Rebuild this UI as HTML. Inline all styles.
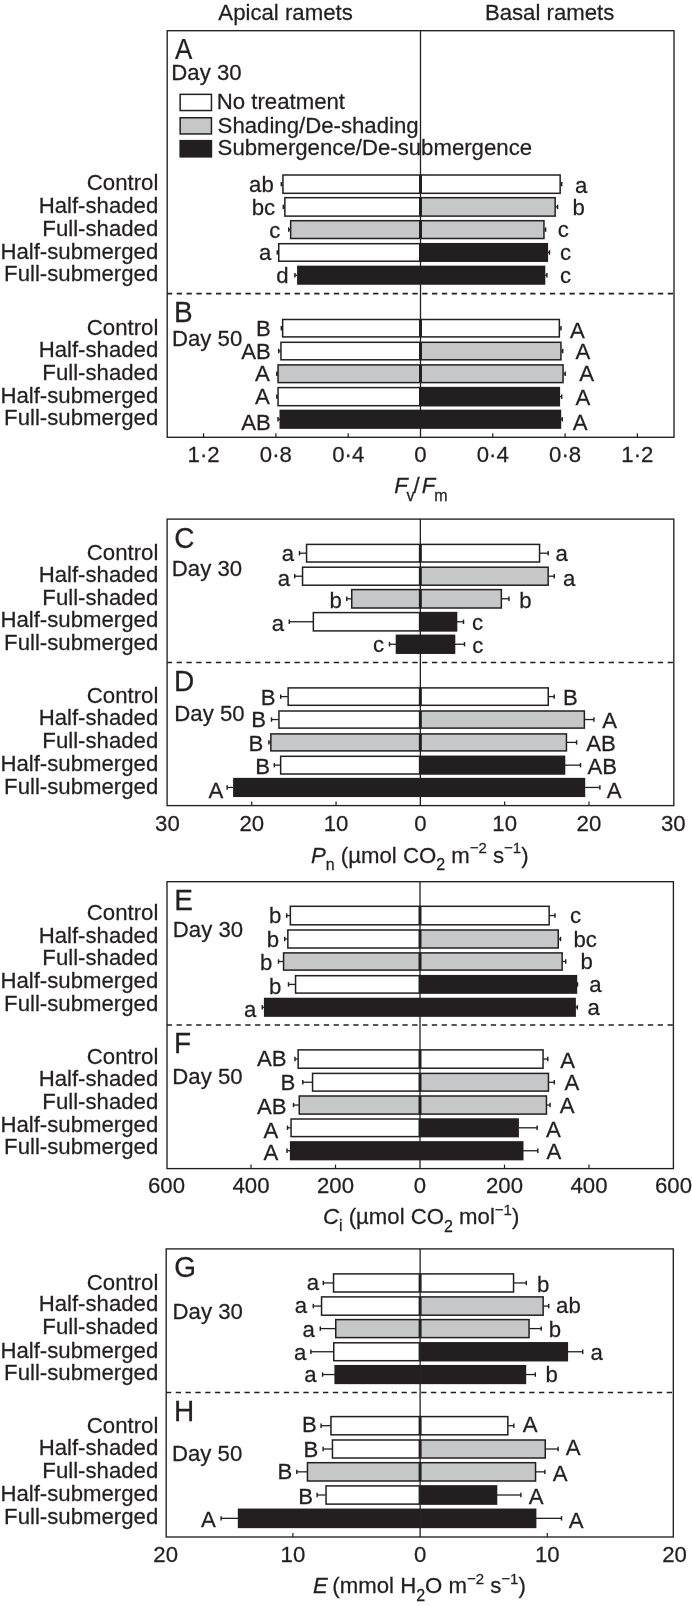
<!DOCTYPE html>
<html><head><meta charset="utf-8"><style>
html,body{margin:0;padding:0;background:#fff;}
svg{display:block;will-change:transform;filter:blur(0.35px);}
text{font-family:"Liberation Sans",sans-serif;fill:#231f20;stroke:#231f20;stroke-width:0.25px;}
</style></head><body>
<svg width="692" height="1606" viewBox="0 0 692 1606" stroke="#231f20" fill="#231f20">
<rect x="0" y="0" width="692" height="1606" fill="#fff" stroke="none"/>
<text transform="translate(218.36,19.80) scale(1,1.035)" font-size="22.2">Apical ramets</text>
<text transform="translate(484.88,19.80) scale(1,1.035)" font-size="22.2">Basal ramets</text>
<rect x="167.20" y="30.70" width="506.80" height="406.60" fill="none" stroke-width="1.35"/>
<line x1="420.50" y1="30.70" x2="420.50" y2="437.30" stroke-width="1.3"/>
<line x1="167.20" y1="293.60" x2="674.00" y2="293.60" stroke-width="1.55" stroke-dasharray="5.3 4.52" stroke-dashoffset="0.3"/>
<line x1="203.60" y1="433.30" x2="203.60" y2="437.30" stroke-width="1.2"/>
<line x1="275.90" y1="433.30" x2="275.90" y2="437.30" stroke-width="1.2"/>
<line x1="348.20" y1="433.30" x2="348.20" y2="437.30" stroke-width="1.2"/>
<line x1="492.80" y1="433.30" x2="492.80" y2="437.30" stroke-width="1.2"/>
<line x1="565.10" y1="433.30" x2="565.10" y2="437.30" stroke-width="1.2"/>
<line x1="637.40" y1="433.30" x2="637.40" y2="437.30" stroke-width="1.2"/>
<text transform="translate(203.60,462.30) scale(1,1.035)" font-size="22.2" text-anchor="middle">1·2</text>
<text transform="translate(275.90,462.30) scale(1,1.035)" font-size="22.2" text-anchor="middle">0·8</text>
<text transform="translate(348.20,462.30) scale(1,1.035)" font-size="22.2" text-anchor="middle">0·4</text>
<text transform="translate(420.50,462.30) scale(1,1.035)" font-size="22.2" text-anchor="middle">0</text>
<text transform="translate(492.80,462.30) scale(1,1.035)" font-size="22.2" text-anchor="middle">0·4</text>
<text transform="translate(565.10,462.30) scale(1,1.035)" font-size="22.2" text-anchor="middle">0·8</text>
<text transform="translate(637.40,462.30) scale(1,1.035)" font-size="22.2" text-anchor="middle">1·2</text>
<text transform="translate(175.05,58.7) scale(0.885,1)" font-size="29.3">A</text>
<text transform="translate(171.28,79.50) scale(1,1.035)" font-size="22.2">Day 30</text>
<rect x="179.40" y="93.60" width="32.80" height="17.70" fill="#231f20" stroke="none"/>
<rect x="180.90" y="95.10" width="29.80" height="14.70" fill="#ffffff" stroke="none"/>
<rect x="179.40" y="117.00" width="32.80" height="17.70" fill="#231f20" stroke="none"/>
<rect x="180.90" y="118.50" width="29.80" height="14.70" fill="#c6c7c9" stroke="none"/>
<rect x="179.40" y="139.90" width="32.80" height="17.70" fill="#231f20" stroke="none"/>
<text transform="translate(216.78,108.90) scale(1,1.035)" font-size="22.2">No treatment</text>
<text transform="translate(217.59,132.60) scale(1,1.035)" font-size="22.2">Shading/De-shading</text>
<text transform="translate(217.59,154.70) scale(1,1.035)" font-size="22.2">Submergence/De-submergence</text>
<rect x="282.20" y="174.25" width="138.30" height="19.80" fill="#231f20" stroke="none"/>
<rect x="283.70" y="175.75" width="135.30" height="16.80" fill="#ffffff" stroke="none"/>
<line x1="282.60" y1="184.15" x2="281.30" y2="184.15" stroke-width="1.3"/>
<line x1="281.30" y1="181.95" x2="281.30" y2="186.35" stroke-width="1.45"/>
<rect x="420.50" y="174.25" width="140.40" height="19.80" fill="#231f20" stroke="none"/>
<rect x="422.00" y="175.75" width="137.40" height="16.80" fill="#ffffff" stroke="none"/>
<line x1="560.50" y1="184.15" x2="561.70" y2="184.15" stroke-width="1.3"/>
<line x1="561.70" y1="181.95" x2="561.70" y2="186.35" stroke-width="1.45"/>
<text transform="translate(249.04,192.20) scale(1,1.035)" font-size="22.2">ab</text>
<text transform="translate(575.06,192.90) scale(1,1.035)" font-size="22.2">a</text>
<text transform="translate(86.82,190.10) scale(1,1.035)" font-size="22.2">Control</text>
<rect x="284.10" y="196.95" width="136.40" height="19.90" fill="#231f20" stroke="none"/>
<rect x="285.60" y="198.45" width="133.40" height="16.90" fill="#ffffff" stroke="none"/>
<line x1="284.50" y1="206.90" x2="283.30" y2="206.90" stroke-width="1.3"/>
<line x1="283.30" y1="204.70" x2="283.30" y2="209.10" stroke-width="1.45"/>
<rect x="420.50" y="196.95" width="135.40" height="19.90" fill="#231f20" stroke="none"/>
<rect x="422.00" y="198.45" width="132.40" height="16.90" fill="#c6c7c9" stroke="none"/>
<line x1="555.50" y1="206.90" x2="557.60" y2="206.90" stroke-width="1.3"/>
<line x1="557.60" y1="204.70" x2="557.60" y2="209.10" stroke-width="1.45"/>
<text transform="translate(251.74,214.60) scale(1,1.035)" font-size="22.2">bc</text>
<text transform="translate(572.57,215.00) scale(1,1.035)" font-size="22.2">b</text>
<text transform="translate(38.63,212.90) scale(1,1.035)" font-size="22.2">Half-shaded</text>
<rect x="289.90" y="219.95" width="130.60" height="19.30" fill="#231f20" stroke="none"/>
<rect x="291.40" y="221.45" width="127.60" height="16.30" fill="#c6c7c9" stroke="none"/>
<line x1="290.30" y1="229.60" x2="288.70" y2="229.60" stroke-width="1.3"/>
<line x1="288.70" y1="227.40" x2="288.70" y2="231.80" stroke-width="1.45"/>
<rect x="420.50" y="219.95" width="124.20" height="19.30" fill="#231f20" stroke="none"/>
<rect x="422.00" y="221.45" width="121.20" height="16.30" fill="#c6c7c9" stroke="none"/>
<line x1="544.30" y1="229.60" x2="545.60" y2="229.60" stroke-width="1.3"/>
<line x1="545.60" y1="227.40" x2="545.60" y2="231.80" stroke-width="1.45"/>
<text transform="translate(269.34,237.80) scale(1,1.035)" font-size="22.2">c</text>
<text transform="translate(557.66,237.40) scale(1,1.035)" font-size="22.2">c</text>
<text transform="translate(42.33,235.80) scale(1,1.035)" font-size="22.2">Full-shaded</text>
<rect x="278.00" y="242.95" width="142.50" height="19.00" fill="#231f20" stroke="none"/>
<rect x="279.50" y="244.45" width="139.50" height="16.00" fill="#ffffff" stroke="none"/>
<line x1="278.40" y1="252.45" x2="277.30" y2="252.45" stroke-width="1.3"/>
<line x1="277.30" y1="250.25" x2="277.30" y2="254.65" stroke-width="1.45"/>
<rect x="420.50" y="242.95" width="127.60" height="19.00" fill="#231f20" stroke="none"/>
<line x1="547.70" y1="252.45" x2="549.50" y2="252.45" stroke-width="1.3"/>
<line x1="549.50" y1="250.25" x2="549.50" y2="254.65" stroke-width="1.45"/>
<text transform="translate(259.00,259.80) scale(1,1.035)" font-size="22.2">a</text>
<text transform="translate(560.06,259.80) scale(1,1.035)" font-size="22.2">c</text>
<text transform="translate(0.39,258.60) scale(1,1.035)" font-size="22.2">Half-submerged</text>
<rect x="297.10" y="265.65" width="123.40" height="19.10" fill="#231f20" stroke="none"/>
<line x1="297.50" y1="275.20" x2="294.90" y2="275.20" stroke-width="1.3"/>
<line x1="294.90" y1="273.00" x2="294.90" y2="277.40" stroke-width="1.45"/>
<rect x="420.50" y="265.65" width="124.80" height="19.10" fill="#231f20" stroke="none"/>
<line x1="544.90" y1="275.20" x2="546.90" y2="275.20" stroke-width="1.3"/>
<line x1="546.90" y1="273.00" x2="546.90" y2="277.40" stroke-width="1.45"/>
<text transform="translate(276.18,283.30) scale(1,1.035)" font-size="22.2">d</text>
<text transform="translate(560.06,282.60) scale(1,1.035)" font-size="22.2">c</text>
<text transform="translate(4.10,280.70) scale(1,1.035)" font-size="22.2">Full-submerged</text>
<text transform="translate(174.10,321.90) scale(1,1.035)" font-size="28">B</text>
<text transform="translate(171.98,345.50) scale(1,1.035)" font-size="22.2">Day 50</text>
<rect x="281.90" y="318.75" width="138.60" height="18.90" fill="#231f20" stroke="none"/>
<rect x="283.40" y="320.25" width="135.60" height="15.90" fill="#ffffff" stroke="none"/>
<line x1="282.30" y1="328.20" x2="281.30" y2="328.20" stroke-width="1.3"/>
<line x1="281.30" y1="326.00" x2="281.30" y2="330.40" stroke-width="1.45"/>
<rect x="420.50" y="318.75" width="139.60" height="18.90" fill="#231f20" stroke="none"/>
<rect x="422.00" y="320.25" width="136.60" height="15.90" fill="#ffffff" stroke="none"/>
<line x1="559.70" y1="328.20" x2="561.00" y2="328.20" stroke-width="1.3"/>
<line x1="561.00" y1="326.00" x2="561.00" y2="330.40" stroke-width="1.45"/>
<text transform="translate(256.06,335.80) scale(1,1.035)" font-size="22.2">B</text>
<text transform="translate(569.96,337.70) scale(1,1.035)" font-size="22.2">A</text>
<text transform="translate(86.82,334.50) scale(1,1.035)" font-size="22.2">Control</text>
<rect x="280.20" y="341.55" width="140.30" height="19.00" fill="#231f20" stroke="none"/>
<rect x="281.70" y="343.05" width="137.30" height="16.00" fill="#ffffff" stroke="none"/>
<line x1="280.60" y1="351.05" x2="278.70" y2="351.05" stroke-width="1.3"/>
<line x1="278.70" y1="348.85" x2="278.70" y2="353.25" stroke-width="1.45"/>
<rect x="420.50" y="341.55" width="141.20" height="19.00" fill="#231f20" stroke="none"/>
<rect x="422.00" y="343.05" width="138.20" height="16.00" fill="#c6c7c9" stroke="none"/>
<line x1="561.30" y1="351.05" x2="562.70" y2="351.05" stroke-width="1.3"/>
<line x1="562.70" y1="348.85" x2="562.70" y2="353.25" stroke-width="1.45"/>
<text transform="translate(241.26,358.60) scale(1,1.035)" font-size="22.2">AB</text>
<text transform="translate(575.46,358.60) scale(1,1.035)" font-size="22.2">A</text>
<text transform="translate(38.63,356.90) scale(1,1.035)" font-size="22.2">Half-shaded</text>
<rect x="277.30" y="364.15" width="143.20" height="19.20" fill="#231f20" stroke="none"/>
<rect x="278.80" y="365.65" width="140.20" height="16.20" fill="#c6c7c9" stroke="none"/>
<line x1="277.70" y1="373.75" x2="276.80" y2="373.75" stroke-width="1.3"/>
<line x1="276.80" y1="371.55" x2="276.80" y2="375.95" stroke-width="1.45"/>
<rect x="420.50" y="364.15" width="143.30" height="19.20" fill="#231f20" stroke="none"/>
<rect x="422.00" y="365.65" width="140.30" height="16.20" fill="#c6c7c9" stroke="none"/>
<line x1="563.40" y1="373.75" x2="565.20" y2="373.75" stroke-width="1.3"/>
<line x1="565.20" y1="371.55" x2="565.20" y2="375.95" stroke-width="1.45"/>
<text transform="translate(254.94,380.70) scale(1,1.035)" font-size="22.2">A</text>
<text transform="translate(579.16,381.40) scale(1,1.035)" font-size="22.2">A</text>
<text transform="translate(42.33,379.60) scale(1,1.035)" font-size="22.2">Full-shaded</text>
<rect x="277.30" y="386.85" width="143.20" height="19.60" fill="#231f20" stroke="none"/>
<rect x="278.80" y="388.35" width="140.20" height="16.60" fill="#ffffff" stroke="none"/>
<line x1="277.70" y1="396.65" x2="276.80" y2="396.65" stroke-width="1.3"/>
<line x1="276.80" y1="394.45" x2="276.80" y2="398.85" stroke-width="1.45"/>
<rect x="420.50" y="386.85" width="139.60" height="19.60" fill="#231f20" stroke="none"/>
<line x1="559.70" y1="396.65" x2="561.70" y2="396.65" stroke-width="1.3"/>
<line x1="561.70" y1="394.45" x2="561.70" y2="398.85" stroke-width="1.45"/>
<text transform="translate(254.94,403.80) scale(1,1.035)" font-size="22.2">A</text>
<text transform="translate(575.46,404.90) scale(1,1.035)" font-size="22.2">A</text>
<text transform="translate(0.39,402.60) scale(1,1.035)" font-size="22.2">Half-submerged</text>
<rect x="279.50" y="409.65" width="141.00" height="19.20" fill="#231f20" stroke="none"/>
<line x1="279.90" y1="419.25" x2="278.00" y2="419.25" stroke-width="1.3"/>
<line x1="278.00" y1="417.05" x2="278.00" y2="421.45" stroke-width="1.45"/>
<rect x="420.50" y="409.65" width="140.70" height="19.20" fill="#231f20" stroke="none"/>
<line x1="560.80" y1="419.25" x2="562.30" y2="419.25" stroke-width="1.3"/>
<line x1="562.30" y1="417.05" x2="562.30" y2="421.45" stroke-width="1.45"/>
<text transform="translate(241.26,429.50) scale(1,1.035)" font-size="22.2">AB</text>
<text transform="translate(572.76,429.50) scale(1,1.035)" font-size="22.2">A</text>
<text transform="translate(4.10,425.40) scale(1,1.035)" font-size="22.2">Full-submerged</text>
<text transform="translate(394.3,492.6) scale(1,1.035)" font-size="22.2"><tspan font-style="italic">F</tspan><tspan x="12.25" dy="7.8" font-size="16">v</tspan><tspan x="19.3" dy="-7.8">/</tspan><tspan x="27.5" font-style="italic">F</tspan><tspan x="39.95" dy="7.8" font-size="16">m</tspan></text>
<rect x="167.10" y="519.10" width="506.70" height="286.50" fill="none" stroke-width="1.35"/>
<line x1="420.35" y1="519.10" x2="420.35" y2="805.60" stroke-width="1.3"/>
<line x1="167.10" y1="662.50" x2="673.80" y2="662.50" stroke-width="1.55" stroke-dasharray="5.3 4.52" stroke-dashoffset="0.3"/>
<line x1="251.75" y1="801.60" x2="251.75" y2="805.60" stroke-width="1.2"/>
<line x1="336.05" y1="801.60" x2="336.05" y2="805.60" stroke-width="1.2"/>
<line x1="504.65" y1="801.60" x2="504.65" y2="805.60" stroke-width="1.2"/>
<line x1="588.95" y1="801.60" x2="588.95" y2="805.60" stroke-width="1.2"/>
<text transform="translate(167.45,830.50) scale(1,1.035)" font-size="22.2" text-anchor="middle">30</text>
<text transform="translate(251.75,830.50) scale(1,1.035)" font-size="22.2" text-anchor="middle">20</text>
<text transform="translate(336.05,830.50) scale(1,1.035)" font-size="22.2" text-anchor="middle">10</text>
<text transform="translate(420.35,830.50) scale(1,1.035)" font-size="22.2" text-anchor="middle">0</text>
<text transform="translate(504.65,830.50) scale(1,1.035)" font-size="22.2" text-anchor="middle">10</text>
<text transform="translate(588.95,830.50) scale(1,1.035)" font-size="22.2" text-anchor="middle">20</text>
<text transform="translate(673.25,830.50) scale(1,1.035)" font-size="22.2" text-anchor="middle">30</text>
<text transform="translate(174.28,547.70) scale(1,1.035)" font-size="28">C</text>
<text transform="translate(171.78,575.60) scale(1,1.035)" font-size="22.2">Day 30</text>
<rect x="305.80" y="543.65" width="114.55" height="19.10" fill="#231f20" stroke="none"/>
<rect x="307.30" y="545.15" width="111.55" height="16.10" fill="#ffffff" stroke="none"/>
<line x1="306.20" y1="553.20" x2="299.50" y2="553.20" stroke-width="1.3"/>
<line x1="299.50" y1="551.00" x2="299.50" y2="555.40" stroke-width="1.45"/>
<rect x="420.35" y="543.65" width="119.95" height="19.10" fill="#231f20" stroke="none"/>
<rect x="421.85" y="545.15" width="116.95" height="16.10" fill="#ffffff" stroke="none"/>
<line x1="539.90" y1="553.20" x2="548.20" y2="553.20" stroke-width="1.3"/>
<line x1="548.20" y1="551.00" x2="548.20" y2="555.40" stroke-width="1.45"/>
<text transform="translate(281.85,560.90) scale(1,1.035)" font-size="22.2">a</text>
<text transform="translate(555.46,561.00) scale(1,1.035)" font-size="22.2">a</text>
<text transform="translate(86.82,559.50) scale(1,1.035)" font-size="22.2">Control</text>
<rect x="301.80" y="566.45" width="118.55" height="19.50" fill="#231f20" stroke="none"/>
<rect x="303.30" y="567.95" width="115.55" height="16.50" fill="#ffffff" stroke="none"/>
<line x1="302.20" y1="576.20" x2="294.70" y2="576.20" stroke-width="1.3"/>
<line x1="294.70" y1="574.00" x2="294.70" y2="578.40" stroke-width="1.45"/>
<rect x="420.35" y="566.45" width="128.55" height="19.50" fill="#231f20" stroke="none"/>
<rect x="421.85" y="567.95" width="125.55" height="16.50" fill="#c6c7c9" stroke="none"/>
<line x1="548.50" y1="576.20" x2="554.30" y2="576.20" stroke-width="1.3"/>
<line x1="554.30" y1="574.00" x2="554.30" y2="578.40" stroke-width="1.45"/>
<text transform="translate(277.85,585.60) scale(1,1.035)" font-size="22.2">a</text>
<text transform="translate(563.06,585.50) scale(1,1.035)" font-size="22.2">a</text>
<text transform="translate(38.63,582.00) scale(1,1.035)" font-size="22.2">Half-shaded</text>
<rect x="351.00" y="588.85" width="69.35" height="19.90" fill="#231f20" stroke="none"/>
<rect x="352.50" y="590.35" width="66.35" height="16.90" fill="#c6c7c9" stroke="none"/>
<line x1="351.40" y1="598.80" x2="346.80" y2="598.80" stroke-width="1.3"/>
<line x1="346.80" y1="596.60" x2="346.80" y2="601.00" stroke-width="1.45"/>
<rect x="420.35" y="588.85" width="81.75" height="19.90" fill="#231f20" stroke="none"/>
<rect x="421.85" y="590.35" width="78.75" height="16.90" fill="#c6c7c9" stroke="none"/>
<line x1="501.70" y1="598.80" x2="509.00" y2="598.80" stroke-width="1.3"/>
<line x1="509.00" y1="596.60" x2="509.00" y2="601.00" stroke-width="1.45"/>
<text transform="translate(329.59,607.70) scale(1,1.035)" font-size="22.2">b</text>
<text transform="translate(519.37,607.70) scale(1,1.035)" font-size="22.2">b</text>
<text transform="translate(42.33,605.00) scale(1,1.035)" font-size="22.2">Full-shaded</text>
<rect x="312.60" y="611.85" width="107.75" height="19.80" fill="#231f20" stroke="none"/>
<rect x="314.10" y="613.35" width="104.75" height="16.80" fill="#ffffff" stroke="none"/>
<line x1="313.00" y1="621.75" x2="289.30" y2="621.75" stroke-width="1.3"/>
<line x1="289.30" y1="619.55" x2="289.30" y2="623.95" stroke-width="1.45"/>
<rect x="420.35" y="611.85" width="36.95" height="19.80" fill="#231f20" stroke="none"/>
<line x1="456.90" y1="621.75" x2="463.50" y2="621.75" stroke-width="1.3"/>
<line x1="463.50" y1="619.55" x2="463.50" y2="623.95" stroke-width="1.45"/>
<text transform="translate(271.65,630.70) scale(1,1.035)" font-size="22.2">a</text>
<text transform="translate(471.96,630.20) scale(1,1.035)" font-size="22.2">c</text>
<text transform="translate(0.39,627.10) scale(1,1.035)" font-size="22.2">Half-submerged</text>
<rect x="395.70" y="634.55" width="24.65" height="19.40" fill="#231f20" stroke="none"/>
<line x1="396.10" y1="644.25" x2="389.50" y2="644.25" stroke-width="1.3"/>
<line x1="389.50" y1="642.05" x2="389.50" y2="646.45" stroke-width="1.45"/>
<rect x="420.35" y="634.55" width="34.95" height="19.40" fill="#231f20" stroke="none"/>
<line x1="454.90" y1="644.25" x2="464.50" y2="644.25" stroke-width="1.3"/>
<line x1="464.50" y1="642.05" x2="464.50" y2="646.45" stroke-width="1.45"/>
<text transform="translate(372.89,652.40) scale(1,1.035)" font-size="22.2">c</text>
<text transform="translate(472.16,652.80) scale(1,1.035)" font-size="22.2">c</text>
<text transform="translate(4.10,649.60) scale(1,1.035)" font-size="22.2">Full-submerged</text>
<text transform="translate(174.10,691.20) scale(1,1.035)" font-size="28">D</text>
<text transform="translate(174.28,720.90) scale(1,1.035)" font-size="22.2">Day 50</text>
<rect x="287.40" y="687.15" width="132.95" height="18.90" fill="#231f20" stroke="none"/>
<rect x="288.90" y="688.65" width="129.95" height="15.90" fill="#ffffff" stroke="none"/>
<line x1="287.80" y1="696.60" x2="280.70" y2="696.60" stroke-width="1.3"/>
<line x1="280.70" y1="694.40" x2="280.70" y2="698.80" stroke-width="1.45"/>
<rect x="420.35" y="687.15" width="128.65" height="18.90" fill="#231f20" stroke="none"/>
<rect x="421.85" y="688.65" width="125.65" height="15.90" fill="#ffffff" stroke="none"/>
<line x1="548.60" y1="696.60" x2="554.20" y2="696.60" stroke-width="1.3"/>
<line x1="554.20" y1="694.40" x2="554.20" y2="698.80" stroke-width="1.45"/>
<text transform="translate(260.86,705.40) scale(1,1.035)" font-size="22.2">B</text>
<text transform="translate(563.08,705.40) scale(1,1.035)" font-size="22.2">B</text>
<text transform="translate(86.82,702.60) scale(1,1.035)" font-size="22.2">Control</text>
<rect x="278.20" y="710.25" width="142.15" height="18.60" fill="#231f20" stroke="none"/>
<rect x="279.70" y="711.75" width="139.15" height="15.60" fill="#ffffff" stroke="none"/>
<line x1="278.60" y1="719.55" x2="271.50" y2="719.55" stroke-width="1.3"/>
<line x1="271.50" y1="717.35" x2="271.50" y2="721.75" stroke-width="1.45"/>
<rect x="420.35" y="710.25" width="164.75" height="18.60" fill="#231f20" stroke="none"/>
<rect x="421.85" y="711.75" width="161.75" height="15.60" fill="#c6c7c9" stroke="none"/>
<line x1="584.70" y1="719.55" x2="593.90" y2="719.55" stroke-width="1.3"/>
<line x1="593.90" y1="717.35" x2="593.90" y2="721.75" stroke-width="1.45"/>
<text transform="translate(251.26,727.40) scale(1,1.035)" font-size="22.2">B</text>
<text transform="translate(602.36,727.90) scale(1,1.035)" font-size="22.2">A</text>
<text transform="translate(38.63,725.10) scale(1,1.035)" font-size="22.2">Half-shaded</text>
<rect x="270.10" y="733.15" width="150.25" height="18.50" fill="#231f20" stroke="none"/>
<rect x="271.60" y="734.65" width="147.25" height="15.50" fill="#c6c7c9" stroke="none"/>
<line x1="270.50" y1="742.40" x2="268.90" y2="742.40" stroke-width="1.3"/>
<line x1="268.90" y1="740.20" x2="268.90" y2="744.60" stroke-width="1.45"/>
<rect x="420.35" y="733.15" width="146.85" height="18.50" fill="#231f20" stroke="none"/>
<rect x="421.85" y="734.65" width="143.85" height="15.50" fill="#c6c7c9" stroke="none"/>
<line x1="566.80" y1="742.40" x2="576.60" y2="742.40" stroke-width="1.3"/>
<line x1="576.60" y1="740.20" x2="576.60" y2="744.60" stroke-width="1.45"/>
<text transform="translate(248.56,750.80) scale(1,1.035)" font-size="22.2">B</text>
<text transform="translate(586.16,751.10) scale(1,1.035)" font-size="22.2">AB</text>
<text transform="translate(42.33,747.70) scale(1,1.035)" font-size="22.2">Full-shaded</text>
<rect x="279.90" y="755.55" width="140.45" height="19.20" fill="#231f20" stroke="none"/>
<rect x="281.40" y="757.05" width="137.45" height="16.20" fill="#ffffff" stroke="none"/>
<line x1="280.30" y1="765.15" x2="274.30" y2="765.15" stroke-width="1.3"/>
<line x1="274.30" y1="762.95" x2="274.30" y2="767.35" stroke-width="1.45"/>
<rect x="420.35" y="755.55" width="144.95" height="19.20" fill="#231f20" stroke="none"/>
<line x1="564.90" y1="765.15" x2="580.50" y2="765.15" stroke-width="1.3"/>
<line x1="580.50" y1="762.95" x2="580.50" y2="767.35" stroke-width="1.45"/>
<text transform="translate(255.16,773.60) scale(1,1.035)" font-size="22.2">B</text>
<text transform="translate(587.56,774.20) scale(1,1.035)" font-size="22.2">AB</text>
<text transform="translate(0.39,771.30) scale(1,1.035)" font-size="22.2">Half-submerged</text>
<rect x="233.10" y="777.85" width="187.25" height="19.20" fill="#231f20" stroke="none"/>
<line x1="233.50" y1="787.45" x2="227.10" y2="787.45" stroke-width="1.3"/>
<line x1="227.10" y1="785.25" x2="227.10" y2="789.65" stroke-width="1.45"/>
<rect x="420.35" y="777.85" width="164.85" height="19.20" fill="#231f20" stroke="none"/>
<line x1="584.80" y1="787.45" x2="599.90" y2="787.45" stroke-width="1.3"/>
<line x1="599.90" y1="785.25" x2="599.90" y2="789.65" stroke-width="1.45"/>
<text transform="translate(208.54,797.90) scale(1,1.035)" font-size="22.2">A</text>
<text transform="translate(606.76,797.90) scale(1,1.035)" font-size="22.2">A</text>
<text transform="translate(4.10,793.50) scale(1,1.035)" font-size="22.2">Full-submerged</text>
<text transform="translate(311.0,862.5) scale(1,1.035)" font-size="22.2"><tspan font-style="italic">P</tspan><tspan font-size="16" dy="7.5">n</tspan><tspan dy="-7.5"> (µmol CO</tspan><tspan font-size="16" dy="7.5">2</tspan><tspan dy="-7.5"> m</tspan><tspan font-size="15" dy="-9">−2</tspan><tspan dy="9"> s</tspan><tspan font-size="15" dy="-9">−1</tspan><tspan dy="9">)</tspan></text>
<rect x="167.00" y="881.70" width="506.40" height="286.90" fill="none" stroke-width="1.35"/>
<line x1="420.00" y1="881.70" x2="420.00" y2="1168.60" stroke-width="1.3"/>
<line x1="167.00" y1="1025.00" x2="673.40" y2="1025.00" stroke-width="1.55" stroke-dasharray="5.3 4.52" stroke-dashoffset="0.3"/>
<line x1="251.00" y1="1164.60" x2="251.00" y2="1168.60" stroke-width="1.2"/>
<line x1="335.50" y1="1164.60" x2="335.50" y2="1168.60" stroke-width="1.2"/>
<line x1="504.50" y1="1164.60" x2="504.50" y2="1168.60" stroke-width="1.2"/>
<line x1="589.00" y1="1164.60" x2="589.00" y2="1168.60" stroke-width="1.2"/>
<text transform="translate(166.50,1193.30) scale(1,1.035)" font-size="22.2" text-anchor="middle">600</text>
<text transform="translate(251.00,1193.30) scale(1,1.035)" font-size="22.2" text-anchor="middle">400</text>
<text transform="translate(335.50,1193.30) scale(1,1.035)" font-size="22.2" text-anchor="middle">200</text>
<text transform="translate(420.00,1193.30) scale(1,1.035)" font-size="22.2" text-anchor="middle">0</text>
<text transform="translate(504.50,1193.30) scale(1,1.035)" font-size="22.2" text-anchor="middle">200</text>
<text transform="translate(589.00,1193.30) scale(1,1.035)" font-size="22.2" text-anchor="middle">400</text>
<text transform="translate(673.50,1193.30) scale(1,1.035)" font-size="22.2" text-anchor="middle">600</text>
<text transform="translate(174.30,910.10) scale(1,1.035)" font-size="28">E</text>
<text transform="translate(172.78,936.90) scale(1,1.035)" font-size="22.2">Day 30</text>
<rect x="289.60" y="905.55" width="130.40" height="20.00" fill="#231f20" stroke="none"/>
<rect x="291.10" y="907.05" width="127.40" height="17.00" fill="#ffffff" stroke="none"/>
<line x1="290.00" y1="915.55" x2="286.70" y2="915.55" stroke-width="1.3"/>
<line x1="286.70" y1="913.35" x2="286.70" y2="917.75" stroke-width="1.45"/>
<rect x="420.00" y="905.55" width="129.90" height="20.00" fill="#231f20" stroke="none"/>
<rect x="421.50" y="907.05" width="126.90" height="17.00" fill="#ffffff" stroke="none"/>
<line x1="549.50" y1="915.55" x2="555.00" y2="915.55" stroke-width="1.3"/>
<line x1="555.00" y1="913.35" x2="555.00" y2="917.75" stroke-width="1.45"/>
<text transform="translate(268.99,922.80) scale(1,1.035)" font-size="22.2">b</text>
<text transform="translate(570.06,923.20) scale(1,1.035)" font-size="22.2">c</text>
<text transform="translate(86.82,920.40) scale(1,1.035)" font-size="22.2">Control</text>
<rect x="287.10" y="929.25" width="132.90" height="19.50" fill="#231f20" stroke="none"/>
<rect x="288.60" y="930.75" width="129.90" height="16.50" fill="#ffffff" stroke="none"/>
<line x1="287.50" y1="939.00" x2="284.70" y2="939.00" stroke-width="1.3"/>
<line x1="284.70" y1="936.80" x2="284.70" y2="941.20" stroke-width="1.45"/>
<rect x="420.00" y="929.25" width="139.00" height="19.50" fill="#231f20" stroke="none"/>
<rect x="421.50" y="930.75" width="136.00" height="16.50" fill="#c6c7c9" stroke="none"/>
<line x1="558.60" y1="939.00" x2="560.50" y2="939.00" stroke-width="1.3"/>
<line x1="560.50" y1="936.80" x2="560.50" y2="941.20" stroke-width="1.45"/>
<text transform="translate(266.69,946.70) scale(1,1.035)" font-size="22.2">b</text>
<text transform="translate(573.47,946.70) scale(1,1.035)" font-size="22.2">bc</text>
<text transform="translate(38.63,942.50) scale(1,1.035)" font-size="22.2">Half-shaded</text>
<rect x="282.80" y="952.15" width="137.20" height="18.70" fill="#231f20" stroke="none"/>
<rect x="284.30" y="953.65" width="134.20" height="15.70" fill="#c6c7c9" stroke="none"/>
<line x1="283.20" y1="961.50" x2="278.50" y2="961.50" stroke-width="1.3"/>
<line x1="278.50" y1="959.30" x2="278.50" y2="963.70" stroke-width="1.45"/>
<rect x="420.00" y="952.15" width="142.90" height="18.70" fill="#231f20" stroke="none"/>
<rect x="421.50" y="953.65" width="139.90" height="15.70" fill="#c6c7c9" stroke="none"/>
<line x1="562.50" y1="961.50" x2="565.70" y2="961.50" stroke-width="1.3"/>
<line x1="565.70" y1="959.30" x2="565.70" y2="963.70" stroke-width="1.45"/>
<text transform="translate(260.09,969.50) scale(1,1.035)" font-size="22.2">b</text>
<text transform="translate(580.47,969.00) scale(1,1.035)" font-size="22.2">b</text>
<text transform="translate(42.33,965.20) scale(1,1.035)" font-size="22.2">Full-shaded</text>
<rect x="294.80" y="974.95" width="125.20" height="18.90" fill="#231f20" stroke="none"/>
<rect x="296.30" y="976.45" width="122.20" height="15.90" fill="#ffffff" stroke="none"/>
<line x1="295.20" y1="984.40" x2="288.50" y2="984.40" stroke-width="1.3"/>
<line x1="288.50" y1="982.20" x2="288.50" y2="986.60" stroke-width="1.45"/>
<rect x="420.00" y="974.95" width="157.20" height="18.90" fill="#231f20" stroke="none"/>
<line x1="576.80" y1="984.40" x2="577.50" y2="984.40" stroke-width="1.3"/>
<line x1="577.50" y1="982.20" x2="577.50" y2="986.60" stroke-width="1.45"/>
<text transform="translate(268.99,993.50) scale(1,1.035)" font-size="22.2">b</text>
<text transform="translate(589.36,992.20) scale(1,1.035)" font-size="22.2">a</text>
<text transform="translate(0.39,988.30) scale(1,1.035)" font-size="22.2">Half-submerged</text>
<rect x="263.90" y="997.75" width="156.10" height="19.10" fill="#231f20" stroke="none"/>
<line x1="264.30" y1="1007.30" x2="262.30" y2="1007.30" stroke-width="1.3"/>
<line x1="262.30" y1="1005.10" x2="262.30" y2="1009.50" stroke-width="1.45"/>
<rect x="420.00" y="997.75" width="155.90" height="19.10" fill="#231f20" stroke="none"/>
<line x1="575.50" y1="1007.30" x2="577.30" y2="1007.30" stroke-width="1.3"/>
<line x1="577.30" y1="1005.10" x2="577.30" y2="1009.50" stroke-width="1.45"/>
<text transform="translate(243.95,1016.50) scale(1,1.035)" font-size="22.2">a</text>
<text transform="translate(587.46,1015.20) scale(1,1.035)" font-size="22.2">a</text>
<text transform="translate(4.10,1011.00) scale(1,1.035)" font-size="22.2">Full-submerged</text>
<text transform="translate(174.10,1053.20) scale(1,1.035)" font-size="28">F</text>
<text transform="translate(172.28,1083.70) scale(1,1.035)" font-size="22.2">Day 50</text>
<rect x="297.40" y="1049.15" width="122.60" height="19.80" fill="#231f20" stroke="none"/>
<rect x="298.90" y="1050.65" width="119.60" height="16.80" fill="#ffffff" stroke="none"/>
<line x1="297.80" y1="1059.05" x2="295.00" y2="1059.05" stroke-width="1.3"/>
<line x1="295.00" y1="1056.85" x2="295.00" y2="1061.25" stroke-width="1.45"/>
<rect x="420.00" y="1049.15" width="123.80" height="19.80" fill="#231f20" stroke="none"/>
<rect x="421.50" y="1050.65" width="120.80" height="16.80" fill="#ffffff" stroke="none"/>
<line x1="543.40" y1="1059.05" x2="547.80" y2="1059.05" stroke-width="1.3"/>
<line x1="547.80" y1="1056.85" x2="547.80" y2="1061.25" stroke-width="1.45"/>
<text transform="translate(256.96,1066.40) scale(1,1.035)" font-size="22.2">AB</text>
<text transform="translate(560.26,1068.40) scale(1,1.035)" font-size="22.2">A</text>
<text transform="translate(86.82,1063.60) scale(1,1.035)" font-size="22.2">Control</text>
<rect x="311.80" y="1072.65" width="108.20" height="19.20" fill="#231f20" stroke="none"/>
<rect x="313.30" y="1074.15" width="105.20" height="16.20" fill="#ffffff" stroke="none"/>
<line x1="312.20" y1="1082.25" x2="302.80" y2="1082.25" stroke-width="1.3"/>
<line x1="302.80" y1="1080.05" x2="302.80" y2="1084.45" stroke-width="1.45"/>
<rect x="420.00" y="1072.65" width="129.20" height="19.20" fill="#231f20" stroke="none"/>
<rect x="421.50" y="1074.15" width="126.20" height="16.20" fill="#c6c7c9" stroke="none"/>
<line x1="548.80" y1="1082.25" x2="554.30" y2="1082.25" stroke-width="1.3"/>
<line x1="554.30" y1="1080.05" x2="554.30" y2="1084.45" stroke-width="1.45"/>
<text transform="translate(280.56,1089.50) scale(1,1.035)" font-size="22.2">B</text>
<text transform="translate(564.56,1089.70) scale(1,1.035)" font-size="22.2">A</text>
<text transform="translate(38.63,1085.80) scale(1,1.035)" font-size="22.2">Half-shaded</text>
<rect x="298.50" y="1095.25" width="121.50" height="19.60" fill="#231f20" stroke="none"/>
<rect x="300.00" y="1096.75" width="118.50" height="16.60" fill="#c6c7c9" stroke="none"/>
<line x1="298.90" y1="1105.05" x2="293.50" y2="1105.05" stroke-width="1.3"/>
<line x1="293.50" y1="1102.85" x2="293.50" y2="1107.25" stroke-width="1.45"/>
<rect x="420.00" y="1095.25" width="127.20" height="19.60" fill="#231f20" stroke="none"/>
<rect x="421.50" y="1096.75" width="124.20" height="16.60" fill="#c6c7c9" stroke="none"/>
<line x1="546.80" y1="1105.05" x2="550.10" y2="1105.05" stroke-width="1.3"/>
<line x1="550.10" y1="1102.85" x2="550.10" y2="1107.25" stroke-width="1.45"/>
<text transform="translate(256.96,1113.60) scale(1,1.035)" font-size="22.2">AB</text>
<text transform="translate(559.86,1112.90) scale(1,1.035)" font-size="22.2">A</text>
<text transform="translate(42.33,1108.70) scale(1,1.035)" font-size="22.2">Full-shaded</text>
<rect x="290.30" y="1118.25" width="129.70" height="19.10" fill="#231f20" stroke="none"/>
<rect x="291.80" y="1119.75" width="126.70" height="16.10" fill="#ffffff" stroke="none"/>
<line x1="290.70" y1="1127.80" x2="287.50" y2="1127.80" stroke-width="1.3"/>
<line x1="287.50" y1="1125.60" x2="287.50" y2="1130.00" stroke-width="1.45"/>
<rect x="420.00" y="1118.25" width="98.90" height="19.10" fill="#231f20" stroke="none"/>
<line x1="518.50" y1="1127.80" x2="537.10" y2="1127.80" stroke-width="1.3"/>
<line x1="537.10" y1="1125.60" x2="537.10" y2="1130.00" stroke-width="1.45"/>
<text transform="translate(263.44,1138.40) scale(1,1.035)" font-size="22.2">A</text>
<text transform="translate(545.96,1136.60) scale(1,1.035)" font-size="22.2">A</text>
<text transform="translate(0.39,1131.60) scale(1,1.035)" font-size="22.2">Half-submerged</text>
<rect x="289.90" y="1141.15" width="130.10" height="19.20" fill="#231f20" stroke="none"/>
<line x1="290.30" y1="1150.75" x2="287.00" y2="1150.75" stroke-width="1.3"/>
<line x1="287.00" y1="1148.55" x2="287.00" y2="1152.95" stroke-width="1.45"/>
<rect x="420.00" y="1141.15" width="103.50" height="19.20" fill="#231f20" stroke="none"/>
<line x1="523.10" y1="1150.75" x2="537.80" y2="1150.75" stroke-width="1.3"/>
<line x1="537.80" y1="1148.55" x2="537.80" y2="1152.95" stroke-width="1.45"/>
<text transform="translate(263.44,1159.60) scale(1,1.035)" font-size="22.2">A</text>
<text transform="translate(546.46,1158.50) scale(1,1.035)" font-size="22.2">A</text>
<text transform="translate(4.10,1153.80) scale(1,1.035)" font-size="22.2">Full-submerged</text>
<text transform="translate(322.9,1224.2) scale(1,1.035)" font-size="22.2"><tspan font-style="italic">C</tspan><tspan font-size="16" dy="7">i</tspan><tspan dy="-7"> (µmol CO</tspan><tspan font-size="16" dy="7.5">2</tspan><tspan dy="-7.5"> mol</tspan><tspan font-size="15" dy="-9">−1</tspan><tspan dy="9">)</tspan></text>
<rect x="166.20" y="1248.90" width="507.10" height="288.10" fill="none" stroke-width="1.35"/>
<line x1="420.10" y1="1248.90" x2="420.10" y2="1537.00" stroke-width="1.3"/>
<line x1="166.20" y1="1392.50" x2="673.30" y2="1392.50" stroke-width="1.55" stroke-dasharray="5.3 4.52" stroke-dashoffset="0.3"/>
<line x1="292.90" y1="1533.00" x2="292.90" y2="1537.00" stroke-width="1.2"/>
<line x1="547.30" y1="1533.00" x2="547.30" y2="1537.00" stroke-width="1.2"/>
<text transform="translate(165.70,1561.60) scale(1,1.035)" font-size="22.2" text-anchor="middle">20</text>
<text transform="translate(292.90,1561.60) scale(1,1.035)" font-size="22.2" text-anchor="middle">10</text>
<text transform="translate(420.10,1561.60) scale(1,1.035)" font-size="22.2" text-anchor="middle">0</text>
<text transform="translate(547.30,1561.60) scale(1,1.035)" font-size="22.2" text-anchor="middle">10</text>
<text transform="translate(674.50,1561.60) scale(1,1.035)" font-size="22.2" text-anchor="middle">20</text>
<text transform="translate(174.29,1277.40) scale(1,1.035)" font-size="28">G</text>
<text transform="translate(172.58,1319.40) scale(1,1.035)" font-size="22.2">Day 30</text>
<rect x="332.80" y="1273.15" width="87.30" height="19.60" fill="#231f20" stroke="none"/>
<rect x="334.30" y="1274.65" width="84.30" height="16.60" fill="#ffffff" stroke="none"/>
<line x1="333.20" y1="1282.95" x2="323.30" y2="1282.95" stroke-width="1.3"/>
<line x1="323.30" y1="1280.75" x2="323.30" y2="1285.15" stroke-width="1.45"/>
<rect x="420.10" y="1273.15" width="94.20" height="19.60" fill="#231f20" stroke="none"/>
<rect x="421.60" y="1274.65" width="91.20" height="16.60" fill="#ffffff" stroke="none"/>
<line x1="513.90" y1="1282.95" x2="526.30" y2="1282.95" stroke-width="1.3"/>
<line x1="526.30" y1="1280.75" x2="526.30" y2="1285.15" stroke-width="1.45"/>
<text transform="translate(306.85,1290.20) scale(1,1.035)" font-size="22.2">a</text>
<text transform="translate(537.07,1291.70) scale(1,1.035)" font-size="22.2">b</text>
<text transform="translate(86.82,1289.60) scale(1,1.035)" font-size="22.2">Control</text>
<rect x="320.80" y="1296.15" width="99.30" height="19.80" fill="#231f20" stroke="none"/>
<rect x="322.30" y="1297.65" width="96.30" height="16.80" fill="#ffffff" stroke="none"/>
<line x1="321.20" y1="1306.05" x2="313.30" y2="1306.05" stroke-width="1.3"/>
<line x1="313.30" y1="1303.85" x2="313.30" y2="1308.25" stroke-width="1.45"/>
<rect x="420.10" y="1296.15" width="123.80" height="19.80" fill="#231f20" stroke="none"/>
<rect x="421.60" y="1297.65" width="120.80" height="16.80" fill="#c6c7c9" stroke="none"/>
<line x1="543.50" y1="1306.05" x2="548.70" y2="1306.05" stroke-width="1.3"/>
<line x1="548.70" y1="1303.85" x2="548.70" y2="1308.25" stroke-width="1.45"/>
<text transform="translate(294.75,1313.00) scale(1,1.035)" font-size="22.2">a</text>
<text transform="translate(556.06,1313.40) scale(1,1.035)" font-size="22.2">ab</text>
<text transform="translate(38.63,1311.40) scale(1,1.035)" font-size="22.2">Half-shaded</text>
<rect x="335.00" y="1318.85" width="85.10" height="19.50" fill="#231f20" stroke="none"/>
<rect x="336.50" y="1320.35" width="82.10" height="16.50" fill="#c6c7c9" stroke="none"/>
<line x1="335.40" y1="1328.60" x2="320.30" y2="1328.60" stroke-width="1.3"/>
<line x1="320.30" y1="1326.40" x2="320.30" y2="1330.80" stroke-width="1.45"/>
<rect x="420.10" y="1318.85" width="109.70" height="19.50" fill="#231f20" stroke="none"/>
<rect x="421.60" y="1320.35" width="106.70" height="16.50" fill="#c6c7c9" stroke="none"/>
<line x1="529.40" y1="1328.60" x2="541.20" y2="1328.60" stroke-width="1.3"/>
<line x1="541.20" y1="1326.40" x2="541.20" y2="1330.80" stroke-width="1.45"/>
<text transform="translate(302.45,1337.20) scale(1,1.035)" font-size="22.2">a</text>
<text transform="translate(548.67,1337.20) scale(1,1.035)" font-size="22.2">b</text>
<text transform="translate(42.33,1333.90) scale(1,1.035)" font-size="22.2">Full-shaded</text>
<rect x="333.00" y="1342.05" width="87.10" height="19.40" fill="#231f20" stroke="none"/>
<rect x="334.50" y="1343.55" width="84.10" height="16.40" fill="#ffffff" stroke="none"/>
<line x1="333.40" y1="1351.75" x2="310.90" y2="1351.75" stroke-width="1.3"/>
<line x1="310.90" y1="1349.55" x2="310.90" y2="1353.95" stroke-width="1.45"/>
<rect x="420.10" y="1342.05" width="148.00" height="19.40" fill="#231f20" stroke="none"/>
<line x1="567.70" y1="1351.75" x2="582.70" y2="1351.75" stroke-width="1.3"/>
<line x1="582.70" y1="1349.55" x2="582.70" y2="1353.95" stroke-width="1.45"/>
<text transform="translate(294.05,1359.60) scale(1,1.035)" font-size="22.2">a</text>
<text transform="translate(590.46,1359.90) scale(1,1.035)" font-size="22.2">a</text>
<text transform="translate(0.39,1357.60) scale(1,1.035)" font-size="22.2">Half-submerged</text>
<rect x="334.40" y="1364.95" width="85.70" height="19.20" fill="#231f20" stroke="none"/>
<line x1="334.80" y1="1374.55" x2="322.60" y2="1374.55" stroke-width="1.3"/>
<line x1="322.60" y1="1372.35" x2="322.60" y2="1376.75" stroke-width="1.45"/>
<rect x="420.10" y="1364.95" width="106.10" height="19.20" fill="#231f20" stroke="none"/>
<line x1="525.80" y1="1374.55" x2="535.30" y2="1374.55" stroke-width="1.3"/>
<line x1="535.30" y1="1372.35" x2="535.30" y2="1376.75" stroke-width="1.45"/>
<text transform="translate(304.35,1382.10) scale(1,1.035)" font-size="22.2">a</text>
<text transform="translate(545.47,1382.40) scale(1,1.035)" font-size="22.2">b</text>
<text transform="translate(4.10,1380.10) scale(1,1.035)" font-size="22.2">Full-submerged</text>
<text transform="translate(174.10,1420.60) scale(1,1.035)" font-size="28">H</text>
<text transform="translate(171.98,1460.90) scale(1,1.035)" font-size="22.2">Day 50</text>
<rect x="330.20" y="1415.85" width="89.90" height="19.70" fill="#231f20" stroke="none"/>
<rect x="331.70" y="1417.35" width="86.90" height="16.70" fill="#ffffff" stroke="none"/>
<line x1="330.60" y1="1425.70" x2="321.10" y2="1425.70" stroke-width="1.3"/>
<line x1="321.10" y1="1423.50" x2="321.10" y2="1427.90" stroke-width="1.45"/>
<rect x="420.10" y="1415.85" width="88.50" height="19.70" fill="#231f20" stroke="none"/>
<rect x="421.60" y="1417.35" width="85.50" height="16.70" fill="#ffffff" stroke="none"/>
<line x1="508.20" y1="1425.70" x2="513.80" y2="1425.70" stroke-width="1.3"/>
<line x1="513.80" y1="1423.50" x2="513.80" y2="1427.90" stroke-width="1.45"/>
<text transform="translate(302.06,1432.10) scale(1,1.035)" font-size="22.2">B</text>
<text transform="translate(522.86,1431.90) scale(1,1.035)" font-size="22.2">A</text>
<text transform="translate(86.82,1432.60) scale(1,1.035)" font-size="22.2">Control</text>
<rect x="331.70" y="1439.25" width="88.40" height="19.50" fill="#231f20" stroke="none"/>
<rect x="333.20" y="1440.75" width="85.40" height="16.50" fill="#ffffff" stroke="none"/>
<line x1="332.10" y1="1449.00" x2="323.10" y2="1449.00" stroke-width="1.3"/>
<line x1="323.10" y1="1446.80" x2="323.10" y2="1451.20" stroke-width="1.45"/>
<rect x="420.10" y="1439.25" width="125.90" height="19.50" fill="#231f20" stroke="none"/>
<rect x="421.60" y="1440.75" width="122.90" height="16.50" fill="#c6c7c9" stroke="none"/>
<line x1="545.60" y1="1449.00" x2="558.10" y2="1449.00" stroke-width="1.3"/>
<line x1="558.10" y1="1446.80" x2="558.10" y2="1451.20" stroke-width="1.45"/>
<text transform="translate(303.46,1456.90) scale(1,1.035)" font-size="22.2">B</text>
<text transform="translate(565.86,1455.40) scale(1,1.035)" font-size="22.2">A</text>
<text transform="translate(38.63,1455.10) scale(1,1.035)" font-size="22.2">Half-shaded</text>
<rect x="306.70" y="1461.95" width="113.40" height="19.80" fill="#231f20" stroke="none"/>
<rect x="308.20" y="1463.45" width="110.40" height="16.80" fill="#c6c7c9" stroke="none"/>
<line x1="307.10" y1="1471.85" x2="296.80" y2="1471.85" stroke-width="1.3"/>
<line x1="296.80" y1="1469.65" x2="296.80" y2="1474.05" stroke-width="1.45"/>
<rect x="420.10" y="1461.95" width="116.20" height="19.80" fill="#231f20" stroke="none"/>
<rect x="421.60" y="1463.45" width="113.20" height="16.80" fill="#c6c7c9" stroke="none"/>
<line x1="535.90" y1="1471.85" x2="544.90" y2="1471.85" stroke-width="1.3"/>
<line x1="544.90" y1="1469.65" x2="544.90" y2="1474.05" stroke-width="1.45"/>
<text transform="translate(277.46,1479.20) scale(1,1.035)" font-size="22.2">B</text>
<text transform="translate(552.86,1480.60) scale(1,1.035)" font-size="22.2">A</text>
<text transform="translate(42.33,1477.70) scale(1,1.035)" font-size="22.2">Full-shaded</text>
<rect x="325.30" y="1485.15" width="94.80" height="19.70" fill="#231f20" stroke="none"/>
<rect x="326.80" y="1486.65" width="91.80" height="16.70" fill="#ffffff" stroke="none"/>
<line x1="325.70" y1="1495.00" x2="317.10" y2="1495.00" stroke-width="1.3"/>
<line x1="317.10" y1="1492.80" x2="317.10" y2="1497.20" stroke-width="1.45"/>
<rect x="420.10" y="1485.15" width="77.20" height="19.70" fill="#231f20" stroke="none"/>
<line x1="496.90" y1="1495.00" x2="520.90" y2="1495.00" stroke-width="1.3"/>
<line x1="520.90" y1="1492.80" x2="520.90" y2="1497.20" stroke-width="1.45"/>
<text transform="translate(298.36,1503.50) scale(1,1.035)" font-size="22.2">B</text>
<text transform="translate(528.66,1503.80) scale(1,1.035)" font-size="22.2">A</text>
<text transform="translate(0.39,1501.00) scale(1,1.035)" font-size="22.2">Half-submerged</text>
<rect x="237.80" y="1508.55" width="182.30" height="19.60" fill="#231f20" stroke="none"/>
<line x1="238.20" y1="1518.35" x2="221.10" y2="1518.35" stroke-width="1.3"/>
<line x1="221.10" y1="1516.15" x2="221.10" y2="1520.55" stroke-width="1.45"/>
<rect x="420.10" y="1508.55" width="116.30" height="19.60" fill="#231f20" stroke="none"/>
<line x1="536.00" y1="1518.35" x2="561.50" y2="1518.35" stroke-width="1.3"/>
<line x1="561.50" y1="1516.15" x2="561.50" y2="1520.55" stroke-width="1.45"/>
<text transform="translate(200.94,1526.80) scale(1,1.035)" font-size="22.2">A</text>
<text transform="translate(568.76,1527.60) scale(1,1.035)" font-size="22.2">A</text>
<text transform="translate(4.10,1523.50) scale(1,1.035)" font-size="22.2">Full-submerged</text>
<text transform="translate(313.0,1592.9) scale(1,1.035)" font-size="22.2"><tspan font-style="italic">E</tspan><tspan dx="-1.6"> (mmol H</tspan><tspan font-size="16" dy="7.5">2</tspan><tspan dy="-7.5">O m</tspan><tspan font-size="15" dy="-9">−2</tspan><tspan dy="9"> s</tspan><tspan font-size="15" dy="-9">−1</tspan><tspan dy="9">)</tspan></text>
</svg>
</body></html>
